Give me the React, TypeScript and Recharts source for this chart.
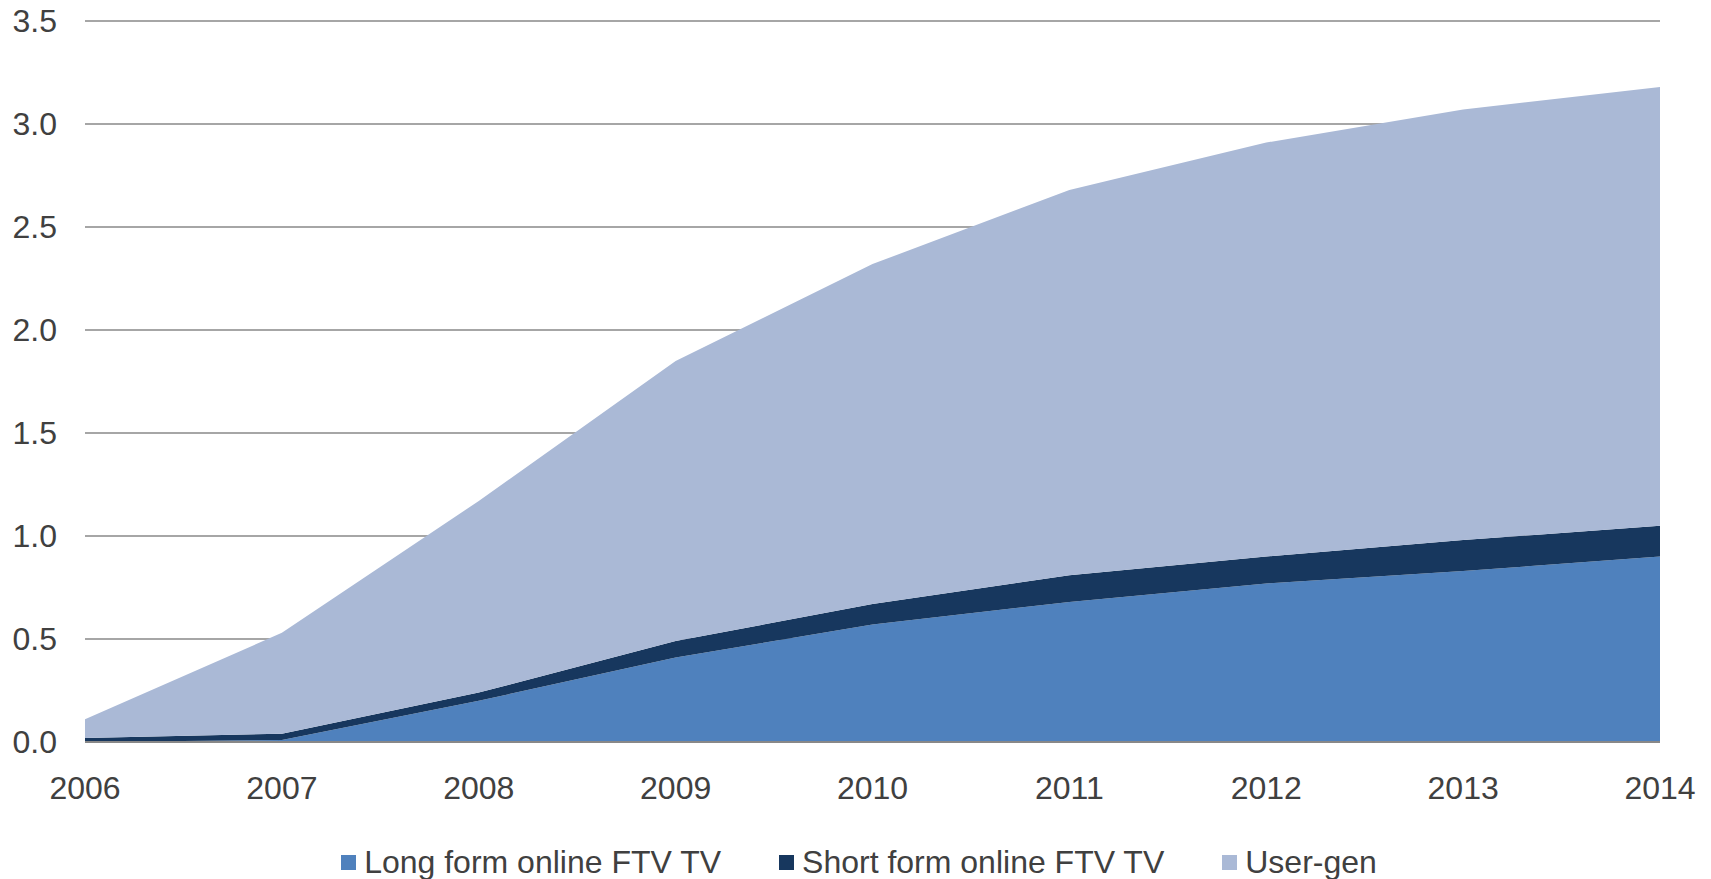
import { Area, AreaChart, CartesianGrid, Legend, XAxis, YAxis } from "recharts"

const years = ["2006", "2007", "2008", "2009", "2010", "2011", "2012", "2013", "2014"]
const longForm = [0, 0.01, 0.2, 0.41, 0.57, 0.68, 0.77, 0.83, 0.9]
const shortForm = [0.02, 0.03, 0.04, 0.08, 0.1, 0.13, 0.13, 0.15, 0.15]
const userGen = [0.09, 0.49, 0.93, 1.36, 1.65, 1.87, 2.01, 2.09, 2.13]
const yTicks = [0, 0.5, 1, 1.5, 2, 2.5, 3, 3.5]

const series = [
  { key: "long", name: "Long form online FTV TV", color: "#4F81BD" },
  { key: "short", name: "Short form online FTV TV", color: "#17375E" },
  { key: "user", name: "User-gen", color: "#AAB9D6" },
]

const data = years.map((year, i) => ({
  year,
  long: longForm[i],
  short: shortForm[i],
  user: userGen[i],
}))

const font = "'Liberation Sans', Arial, sans-serif"
const textColor = "#404040"

function ChartLegend() {
  return (
    <div
      style={{
        display: "flex",
        justifyContent: "center",
        alignItems: "center",
        height: 34,
        fontFamily: font,
        fontSize: 32,
        color: textColor,
        gap: 58,
        paddingLeft: 58,
      }}
    >
      {series.map((s) => (
        <div key={s.key} style={{ display: "flex", alignItems: "center", gap: 8 }}>
          <div style={{ width: 15, height: 15, backgroundColor: s.color }} />
          <span>{s.name}</span>
        </div>
      ))}
    </div>
  )
}

export default function App() {
  return (
    <div style={{ position: "absolute", left: 0, top: 0, width: 1711, height: 879, background: "#fff" }}>
      <AreaChart width={1711} height={879} data={data} margin={{ top: 21, right: 51, bottom: 0, left: 0 }}>
        <CartesianGrid horizontal vertical={false} stroke="#888" strokeWidth={1.5} />
        <XAxis
          dataKey="year"
          axisLine={{ stroke: "#888", strokeWidth: 2 }}
          tickLine={false}
          tickSize={0}
          tickMargin={34}
          height={103}
          interval={0}
          tick={{ fill: textColor, fontSize: 32, fontFamily: font }}
        />
        <YAxis
          width={85}
          domain={[0, 3.5]}
          ticks={yTicks}
          axisLine={false}
          tickLine={false}
          tickSize={0}
          tickMargin={28}
          tickFormatter={(v: number) => v.toFixed(1)}
          tick={{ fill: textColor, fontSize: 32, fontFamily: font }}
        />
        {series.map((s) => (
          <Area
            key={s.key}
            type="linear"
            dataKey={s.key}
            name={s.name}
            stackId="1"
            stroke="none"
            fill={s.color}
            fillOpacity={1}
            isAnimationActive={false}
          />
        ))}
        <Legend verticalAlign="bottom" content={() => <ChartLegend />} />
      </AreaChart>
    </div>
  )
}
